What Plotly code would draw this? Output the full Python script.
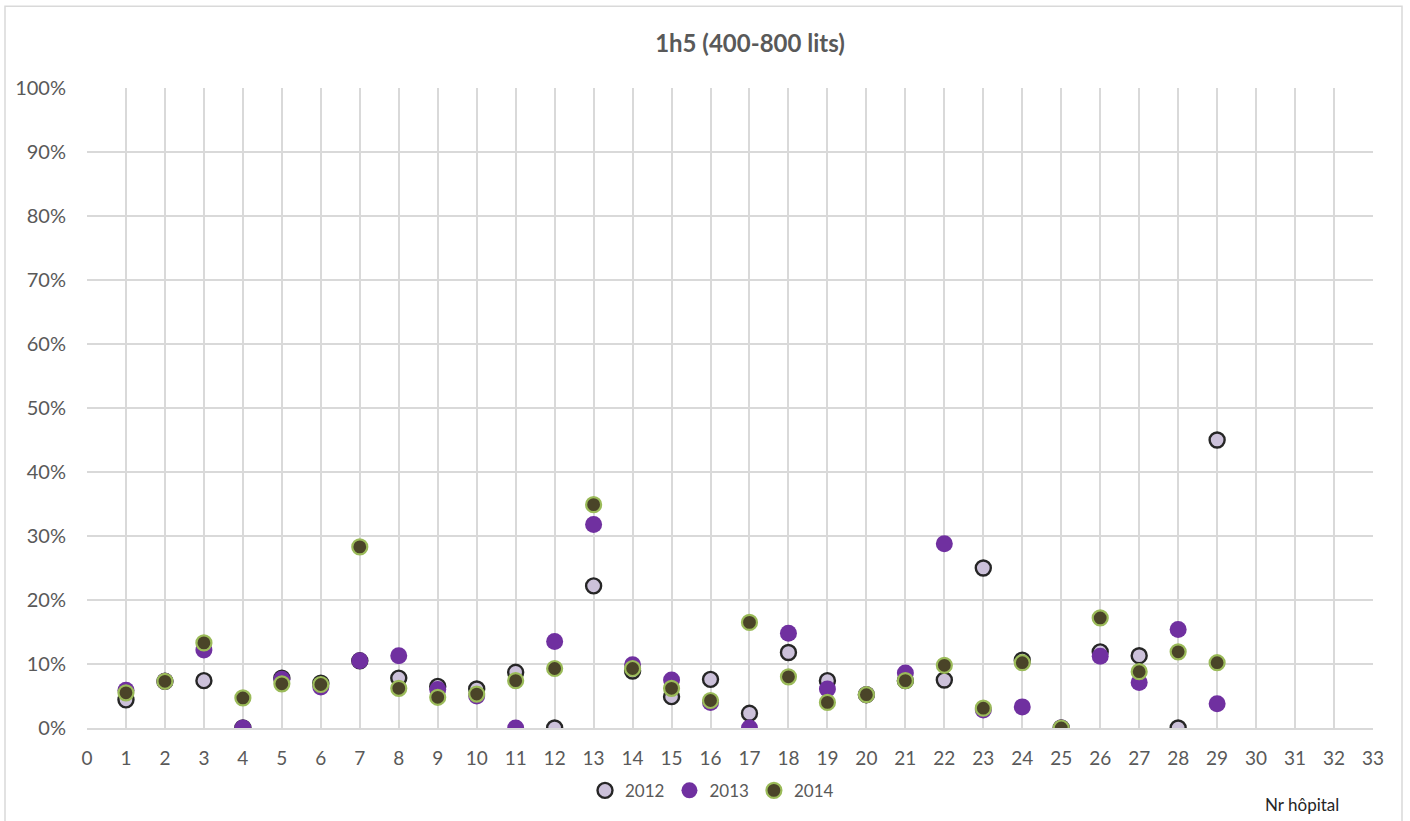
import plotly.graph_objects as go

hospitals = list(range(1, 30))
v2012 = [4.4, 7.3, 7.4, 0.0, 7.8, 7.0, 10.5, 7.8, 6.5, 6.1, 8.7, 0.0, 22.2, 8.9, 4.9, 7.6, 2.3, 11.8, 7.4, 5.2, 7.4, 7.5, 25.0, 10.6, 0.0, 11.9, 11.3, 0.0, 45.0]
v2013 = [5.9, 7.3, 12.2, 0.0, 7.6, 6.4, 10.5, 11.3, 6.0, 5.0, 0.0, 13.5, 31.8, 9.9, 7.5, 4.0, 0.0, 14.8, 6.1, 5.2, 8.6, 28.8, 2.8, 3.3, 0.0, 11.2, 7.1, 15.4, 3.8]
v2014 = [5.5, 7.3, 13.3, 4.7, 6.9, 6.8, 28.3, 6.2, 4.8, 5.3, 7.4, 9.3, 34.9, 9.3, 6.2, 4.3, 16.5, 8.0, 4.0, 5.2, 7.4, 9.8, 3.1, 10.2, 0.0, 17.2, 8.8, 11.9, 10.2]

y_ticks = [i / 10 for i in range(11)]
x_ticks = list(range(0, 34))

font_family = "Lato, 'Open Sans', sans-serif"
grey = "#595959"

fig = go.Figure()
fig.add_trace(go.Scatter(
    x=hospitals, y=[v / 100 for v in v2012], mode="markers", name="2012",
    marker=dict(size=15, color="#CCC1DA", line=dict(color="#262626", width=2.4)),
))
fig.add_trace(go.Scatter(
    x=hospitals, y=[v / 100 for v in v2013], mode="markers", name="2013",
    marker=dict(size=17, color="#7030A0", line=dict(color="#7030A0", width=0)),
))
fig.add_trace(go.Scatter(
    x=hospitals, y=[v / 100 for v in v2014], mode="markers", name="2014",
    marker=dict(size=15, color="#4A4428", line=dict(color="#9BBB59", width=2.2)),
))

L, R, T, B = 87, 37, 88, 91
W, H = 1410, 821
pw = W - L - R
ph = H - T - B

fig.update_layout(
    width=W, height=H,
    margin=dict(l=L, r=R, t=T, b=B),
    paper_bgcolor="white", plot_bgcolor="white",
    font=dict(family=font_family, color=grey, size=19),
    title=dict(text="<b>1h5 (400-800 lits)</b>", x=750 / W, xanchor="center",
               y=1 - 44 / H, yanchor="middle",
               font=dict(size=24, color=grey, family=font_family)),
    showlegend=True,
    legend=dict(orientation="h", x=(712 - L) / pw, xanchor="center",
                y=(730 - 793) / ph, yanchor="middle",
                font=dict(size=17, color=grey), itemwidth=30,
                tracegroupgap=0,
                bgcolor="rgba(0,0,0,0)"),
    xaxis=dict(range=[0, 33], tickmode="array", tickvals=x_ticks,
               ticktext=[str(t) for t in x_ticks],
               showgrid=True, gridcolor="#D9D9D9", gridwidth=1.5,
               zeroline=False, showline=True, linecolor="#D9D9D9", linewidth=1.5,
               ticks="", ticklabelstandoff=12, tickfont=dict(size=19, color=grey),
               fixedrange=True, mirror=False),
    yaxis=dict(range=[0, 1], tickmode="array", tickvals=y_ticks,
               ticktext=[f"{int(round(t * 100))}%" for t in y_ticks],
               showgrid=True, gridcolor="#D9D9D9", gridwidth=1.5,
               zeroline=False, showline=False,
               ticks="", ticklabelstandoff=20, tickfont=dict(size=20, color=grey)),
)

# outer chart border
fig.add_shape(type="rect", xref="paper", yref="paper",
              x0=(5 - L) / pw, x1=(1402 - L) / pw,
              y0=(730 - 835) / ph, y1=(730 - 6) / ph,
              line=dict(color="#D9D9D9", width=1.5), fillcolor="rgba(0,0,0,0)", layer="below")

fig.add_annotation(text="Nr hôpital", xref="paper", yref="paper",
                   x=(1302 - L) / pw, y=(730 - 807) / ph, xanchor="center", yanchor="middle",
                   showarrow=False, font=dict(size=17, color="#262626", family=font_family))

fig.write_html("out.html")
